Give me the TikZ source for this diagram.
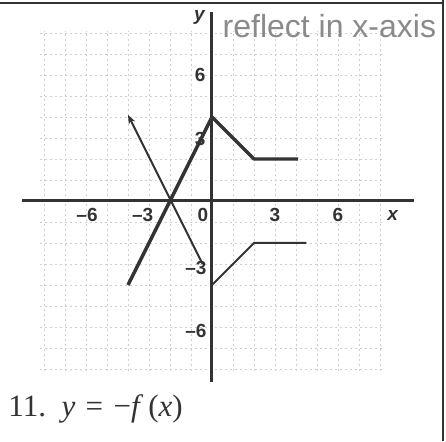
\documentclass[tikz,border=0pt]{standalone}
\usepackage{fontspec}
\setsansfont{Liberation Sans}
\setmainfont{Liberation Serif}
\usetikzlibrary{arrows.meta}
\definecolor{ink}{HTML}{333333}
\definecolor{pencil}{HTML}{8A8A8A}
\definecolor{gridgray}{HTML}{CFCFCF}

\begin{document}
\begin{tikzpicture}[x=21pt, y=21pt,
      axis/.style={ink, line width=3pt},
      orig/.style={ink, line width=3.4pt, line join=round},
      refl/.style={ink, line width=2pt, line join=round},
      tick/.style={font=\fontsize{19}{19}\selectfont\sffamily\bfseries, text=ink, inner sep=0pt},
      axlab/.style={font=\fontsize{19}{19}\selectfont\sffamily\bfseries\itshape, text=ink, inner sep=0pt},
      gridln/.style={gridgray, line width=0.7pt, dash pattern=on 2pt off 3pt}]
    \useasboundingbox (-10.095,-11.43) rectangle (11.143,9.571);
    % frame
    \draw[ink, line width=2.5pt] (-10.095,9.43) -- (11.0,9.43);
    \draw[ink, line width=2pt] (11.0,9.571) -- (11.0,-11.43);
    % grid
    \foreach \k in {-8,...,8} {
      \draw[gridln] (\k,-8.1) -- (\k,8.1);
      \draw[gridln] (-8.2,\k) -- (8.2,\k);
    }
    % axes
    \coordinate (xl) at (-9.05,0);
    \coordinate (xr) at (9.6,0);
    \coordinate (yt) at (0,9.0);
    \coordinate (yb) at (0,-8.6);
    \draw[axis] (xl) -- (xr);
    \draw[axis] (yb) -- (yt);
    \node[axlab] (ylab) at (-0.6,8.75) {y};
    \node[axlab] (xlab) at (8.6,-0.67) {x};
    % tick labels
    \node[tick] (txm6) at (-5.95,-0.67) {\textendash6};
    \node[tick] (txm3) at (-3.3,-0.67) {\textendash3};
    \node[tick] (tx0) at (-0.43,-0.67) {0};
    \node[tick] (tx3) at (3,-0.67) {3};
    \node[tick] (tx6) at (6,-0.67) {6};
    \node[tick, anchor=east] (ty6) at (-0.3,6) {6};
    \node[tick, anchor=east] (ty3) at (-0.3,2.95) {3};
    \node[tick, anchor=east] (tym3) at (-0.25,-3.2) {\textendash3};
    \node[tick, anchor=east] (tym6) at (-0.25,-6.2) {\textendash6};
    % y = f(x)
    \coordinate (a1) at (-4,-4);
    \coordinate (a2) at (0,4);
    \coordinate (a3) at (2,2);
    \coordinate (a4) at (4.1,2);
    \draw[orig] (a1) -- (a2) -- (a3) -- (a4);
    % y = -f(x)
    \coordinate (b1) at (-0.45,-3.0);
    \coordinate (b2) at (-4,4.1);
    \coordinate (c1) at (0,-4);
    \coordinate (c2) at (2,-2);
    \coordinate (c3) at (4.5,-2);
    \draw[refl, -{Stealth[length=9pt, width=7pt]}] (b1) -- (b2);
    \draw[refl] (c1) -- (c2) -- (c3);
    % note and caption
    \node[pencil, font=\fontsize{32}{32}\selectfont\sffamily, anchor=base west, inner sep=0pt] (note) at (0.5,7.8) {reflect in x-axis};
    \node[font=\fontsize{31}{31}\selectfont, text=ink, anchor=base west, inner sep=0pt] (cap) at (-9.7,-10.25) {11.\ \ \textit{y}\,\,=\,\,\textminus\textit{f}\,(\textit{x})};
\end{tikzpicture}
\end{document}
